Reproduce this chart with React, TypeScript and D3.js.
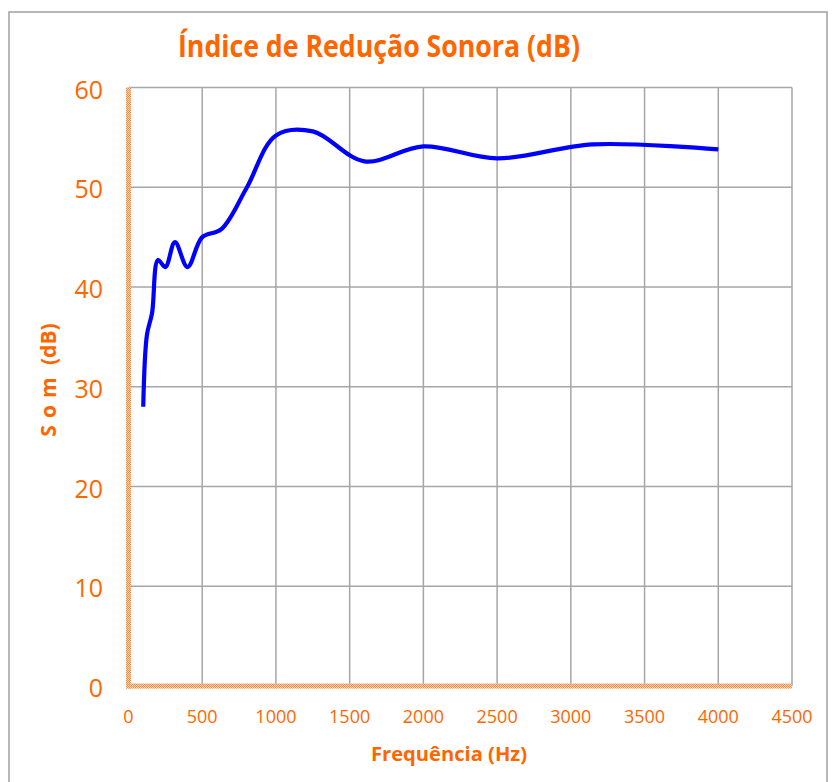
import { useEffect, useRef } from 'react'
import * as d3 from 'd3'

// Índice de redução sonora por banda de 1/3 de oitava
const freqs = [100, 125, 160, 200, 250, 315, 400, 500, 630, 800, 1000, 1250, 1600, 2000, 2500, 3150, 4000]
const values = [28.0, 35.2, 37.4, 42.7, 42.0, 44.5, 42.0, 45.0, 45.8, 49.9, 55.2, 55.6, 52.6, 54.1, 52.9, 54.3, 53.8]
const xTicks = [0, 500, 1000, 1500, 2000, 2500, 3000, 3500, 4000, 4500]
const yTicks = [0, 10, 20, 30, 40, 50, 60]

const W = 834
const H = 782
const ORANGE = '#FF6600'
const GRID = '#A6A6A6'

export default function App() {
  const svgRef = useRef<SVGSVGElement>(null)

  useEffect(() => {
    const svg = d3.select(svgRef.current)
    svg.selectAll('*').remove()

    const x = d3.scaleLinear().domain([0, 4500]).range([128.5, 792])
    const y = d3.scaleLinear().domain([0, 60]).range([686, 87.5])

    // hachura das linhas dos eixos
    const pat = svg.append('defs').append('pattern')
      .attr('id', 'axisDots').attr('width', 2).attr('height', 2)
      .attr('patternUnits', 'userSpaceOnUse')
    pat.append('rect').attr('width', 2).attr('height', 2).attr('fill', '#FFD9BC')
    pat.append('rect').attr('width', 1).attr('height', 1).attr('fill', '#FF8A3D')
    pat.append('rect').attr('x', 1).attr('y', 1).attr('width', 1).attr('height', 1).attr('fill', '#FF8A3D')

    // moldura do gráfico
    svg.append('rect')
      .attr('x', 9).attr('y', 12).attr('width', 818).attr('height', 800)
      .attr('fill', 'white').attr('stroke', '#A0A0A0').attr('stroke-width', 1.5)

    // ── título ──
    svg.append('text')
      .attr('x', 379).attr('y', 57)
      .attr('text-anchor', 'middle')
      .attr('font-family', 'Open Sans').attr('font-weight', 700).attr('font-size', 30)
      .attr('fill', ORANGE)
      .attr('textLength', 402).attr('lengthAdjust', 'spacingAndGlyphs')
      .text('Índice de Redução Sonora (dB)')

    // ── grade ──
    const g = svg.append('g')
    yTicks.filter((t) => t > 0).forEach((t) => {
      g.append('line')
        .attr('x1', x(0)).attr('x2', x(4500))
        .attr('y1', y(t)).attr('y2', y(t))
        .attr('stroke', GRID).attr('stroke-width', 1.5)
    })
    xTicks.filter((t) => t > 0).forEach((t) => {
      g.append('line')
        .attr('x1', x(t)).attr('x2', x(t))
        .attr('y1', y(60)).attr('y2', y(0))
        .attr('stroke', GRID).attr('stroke-width', 1.5)
    })

    // ── linhas dos eixos (laranja pontilhado) ──
    g.append('rect')
      .attr('x', x(0) - 2.5).attr('y', y(60)).attr('width', 5).attr('height', y(0) - y(60) + 2.5)
      .attr('fill', 'url(#axisDots)')
    g.append('rect')
      .attr('x', x(0) - 2.5).attr('y', y(0) - 2.5).attr('width', x(4500) - x(0) + 2.5).attr('height', 5)
      .attr('fill', 'url(#axisDots)')

    // ── curva ──
    const pts = freqs.map((f, i) => [f, values[i]] as [number, number])
    const line = d3.line<[number, number]>()
      .x((d) => x(d[0]))
      .y((d) => y(d[1]))
      .curve(d3.curveCatmullRom.alpha(0.5))
    g.append('path').datum(pts).attr('d', line)
      .attr('fill', 'none').attr('stroke', '#0000FF').attr('stroke-width', 4.2)
      .attr('stroke-linejoin', 'round')

    // ── rótulos dos eixos ──
    yTicks.forEach((t) => {
      svg.append('text')
        .attr('x', 103).attr('y', y(t) + 11)
        .attr('text-anchor', 'end')
        .attr('font-family', 'Open Sans').attr('font-size', 25).attr('fill', ORANGE)
        .text(String(t))
    })
    xTicks.forEach((t) => {
      svg.append('text')
        .attr('x', x(t)).attr('y', 723)
        .attr('text-anchor', 'middle')
        .attr('font-family', 'Open Sans').attr('font-size', 18).attr('fill', ORANGE)
        .text(String(t))
    })

    svg.append('text')
      .attr('x', 449).attr('y', 761)
      .attr('text-anchor', 'middle')
      .attr('font-family', 'Open Sans').attr('font-weight', 700).attr('font-size', 20)
      .attr('fill', ORANGE)
      .attr('textLength', 156).attr('lengthAdjust', 'spacingAndGlyphs')
      .text('Frequência (Hz)')

    const yl = svg.append('text')
      .attr('transform', 'translate(56,380) rotate(-90)')
      .attr('text-anchor', 'middle')
      .attr('font-family', 'Open Sans').attr('font-weight', 700).attr('font-size', 21)
      .attr('fill', ORANGE)
    yl.append('tspan').attr('letter-spacing', 7).text('Som')
    yl.append('tspan').text(' (dB)')
  }, [])

  return (
    <svg ref={svgRef} width={W} height={H}
      style={{ position: 'absolute', left: 0, top: 0, display: 'block' }} />
  )
}
